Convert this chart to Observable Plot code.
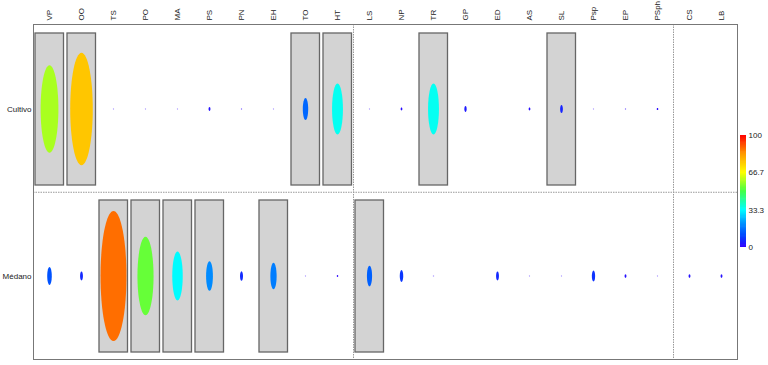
<!DOCTYPE html>
<html>
<head>
<meta charset="utf-8">
<script src="https://cdn.jsdelivr.net/npm/d3@7"></script>
<script src="https://cdn.jsdelivr.net/npm/@observablehq/plot@0.6"></script>
<style>
  html, body { margin: 0; padding: 0; background: #fff; }
  #wrap { position: relative; width: 768px; height: 365px; overflow: hidden; }
  #legend { position: absolute; left: 733px; top: 0; }
  #main { position: absolute; left: 0; top: 0; }
</style>
</head>
<body>
<div id="wrap"><div id="main"></div><div id="legend"></div></div>
<script>
const columns = ["VP","OO","TS","PO","MA","PS","PN","EH","TO","HT","LS","NP","TR","GP","ED","AS","SL","Psp","EP","PSph","CS","LB"];
const rows = ["Cultivo","Médano"];
const cultivoValues = [59, 76, 0.4, 0.3, 0.3, 2.6, 0.6, 0.4, 15, 34.5, 0.4, 2, 34.5, 4, 0, 2, 5.5, 0.4, 0.7, 1.5, 0, 0];
const medanoValues  = [12, 6, 88, 53, 33, 20, 6.5, 18, 0.4, 1.2, 14, 8, 0.5, 0, 6, 0.4, 0.4, 7.5, 2.5, 0.3, 2.5, 2.5];
const cultivoBoxes = ["VP","OO","TO","HT","TR","SL"];
const medanoBoxes = ["TS","PO","MA","PS","EH","LS"];
const dividerColumns = ["LS","CS"];
const legendTicks = [0, 33.3, 66.7, 100];
const colorStops = [0, 10, 22, 33.3, 50, 66.7, 83.3, 100];
const colorRange = ["#3300ff","#0044ff","#0099ff","#00ffff","#44ff44","#ffff00","#ff9900","#ff0000"];

const W = 768, H = 365, ML = 33, MR = 31, MT = 24, MB = 6;
const bw = (W - ML - MR) / columns.length;
const bh = (H - MT - MB) / rows.length;

const data = rows.flatMap((row, j) => columns.map((col, i) => ({
  col, row, value: (j === 0 ? cultivoValues : medanoValues)[i]
}))).filter(d => d.value > 0);

const boxes = [
  ...cultivoBoxes.map(col => ({col, row: "Cultivo"})),
  ...medanoBoxes.map(col => ({col, row: "Médano"}))
];

const ellipse = {
  draw(ctx, size) {
    const ry = Math.sqrt(size / Math.PI);
    const rx = 0.19 * ry + 0.6;
    const k = 0.5523;
    ctx.moveTo(rx, 0);
    ctx.bezierCurveTo(rx, k * ry, k * rx, ry, 0, ry);
    ctx.bezierCurveTo(-k * rx, ry, -rx, k * ry, -rx, 0);
    ctx.bezierCurveTo(-rx, -k * ry, -k * rx, -ry, 0, -ry);
    ctx.bezierCurveTo(k * rx, -ry, rx, -k * ry, rx, 0);
    ctx.closePath();
  }
};

const colorScale = {type: "linear", domain: colorStops, range: colorRange, interpolate: "rgb"};
const fontStyle = {fontFamily: "'Liberation Sans', Arial, sans-serif", fontSize: "8px", color: "#222", background: "transparent"};

const main = Plot.plot({
  width: W, height: H,
  marginLeft: ML, marginRight: MR, marginTop: MT, marginBottom: MB,
  style: fontStyle,
  x: {type: "band", domain: columns, padding: 0, axis: null},
  y: {type: "band", domain: rows, padding: 0, axis: null},
  r: {type: "linear", domain: [0, 100], range: [0, 74]},
  color: colorScale,
  marks: [
    Plot.ruleY(["Médano"], {y: d => d, dy: -bh / 2, stroke: "#999", strokeDasharray: "1.5,1"}),
    Plot.ruleX(dividerColumns, {x: d => d, dx: -bw / 2, stroke: "#999", strokeDasharray: "1.5,1"}),
    Plot.cell(boxes, {x: "col", y: "row", fill: "#d3d3d3", stroke: "#666", strokeWidth: 1.3,
      insetLeft: 2, insetRight: 1.5, insetTop: 8, insetBottom: 7}),
    Plot.dot(data, {x: "col", y: "row", r: "value", fill: "value", symbol: ellipse, stroke: null}),
    Plot.frame({stroke: "#777"}),
    Plot.text(columns, {x: d => d, text: d => d, frameAnchor: "top", dy: -4, rotate: -90,
      textAnchor: "start", lineAnchor: "middle", fill: "#222"}),
    Plot.text(rows, {y: d => d, text: d => d, frameAnchor: "left", dx: -2, textAnchor: "end", fill: "#222"})
  ]
});
document.getElementById("main").appendChild(main);

const legend = Plot.plot({
  width: 35, height: H,
  marginTop: 135, marginBottom: H - 247, marginLeft: 7, marginRight: 22,
  style: fontStyle,
  x: {domain: [0, 1], axis: null},
  y: {domain: [0, 100], axis: null},
  color: colorScale,
  marks: [
    Plot.rect(d3.range(0, 100, 1), {x1: 0, x2: 1, y1: d => d, y2: d => Math.min(100, d + 1.6), fill: d => d + 0.5}),
    Plot.text(legendTicks, {y: d => d, text: d => String(d), frameAnchor: "right", dx: 2, textAnchor: "start", fill: "#222"})
  ]
});
document.getElementById("legend").appendChild(legend);
</script>
</body>
</html>
